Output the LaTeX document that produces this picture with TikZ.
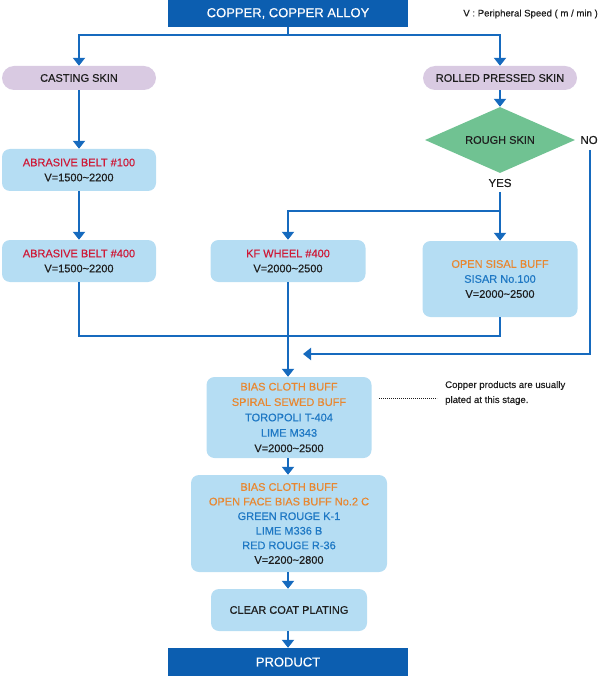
\documentclass[tikz,border=0pt]{standalone}
\usepackage{fontspec}
\setmainfont{Liberation Sans}[FakeBold=0.35]
\usetikzlibrary{arrows.meta,shapes.geometric}
\definecolor{dblue}{RGB}{12,94,176}
\definecolor{lineblue}{RGB}{22,106,190}
\definecolor{lblue}{RGB}{181,221,243}
\definecolor{lav}{RGB}{217,202,226}
\definecolor{grn}{RGB}{112,194,146}
\definecolor{redt}{RGB}{206,26,56}
\definecolor{orat}{RGB}{232,135,48}
\definecolor{bluet}{RGB}{30,120,196}
\definecolor{txt}{RGB}{30,30,30}
\begin{document}
\begin{tikzpicture}[x=1pt,y=-1pt,
  base/.style={font=\fontsize{11}{15}\selectfont, align=center, inner sep=0pt, text=txt},
  box/.style={base, fill=lblue, rounded corners=8pt, minimum height=42pt},
  pill/.style={base, fill=lav, rounded corners=12pt, minimum width=154pt, minimum height=24pt},
  headbox/.style={fill=dblue, text=white, font=\fontsize{13}{15}\selectfont, minimum width=240pt, inner sep=0pt},
  dia/.style={base, diamond, fill=grn, minimum width=150pt, minimum height=66pt, aspect=2.27},
  lbl/.style={font=\fontsize{11.5}{14}\selectfont, text=txt, inner sep=0pt},
  notefont/.style={font=\fontsize{9.6}{15}\selectfont, text=txt, inner sep=0pt},
  conn/.style={draw=lineblue, line width=2.4pt},
  arr/.style={conn, -{Triangle[width=12pt,length=8pt]}},
  dashline/.style={draw=txt, line width=0.6pt, dash pattern=on 1.2pt off 0.8pt}
]
\useasboundingbox (0,0) rectangle (599,676);

\node[headbox, minimum height=27pt] (top) at (288,13.5) {COPPER, COPPER ALLOY};
\node[notefont, anchor=east] (spd) at (598,14) {V : Peripheral Speed ( m / min )};

\node[pill] (cast) at (79,78) {CASTING SKIN};
\node[pill] (rolled) at (500,78) {ROLLED PRESSED SKIN};

\node[dia] (rough) at (500,140) {ROUGH SKIN};
\node[lbl] (no) at (589,140) {NO};
\node[lbl] (yes) at (500,183) {YES};

\node[box, minimum width=154pt] (ab100) at (79,170) {\textcolor{redt}{ABRASIVE BELT \#100}\\V=1500\textasciitilde2200};
\node[box, minimum width=154pt] (ab400) at (79,261) {\textcolor{redt}{ABRASIVE BELT \#400}\\V=1500\textasciitilde2200};
\node[box, minimum width=155pt] (kf) at (288,261) {\textcolor{redt}{KF WHEEL \#400}\\V=2000\textasciitilde2500};
\node[box, minimum width=155pt, minimum height=76pt] (sisal) at (500,279) {\textcolor{orat}{OPEN SISAL BUFF}\\\textcolor{bluet}{SISAR No.100}\\V=2000\textasciitilde2500};

\node[box, minimum width=165pt, minimum height=81pt, font=\fontsize{11}{15.4}\selectfont] (bias1) at (289,417.5) {\textcolor{orat}{BIAS CLOTH BUFF}\\\textcolor{orat}{SPIRAL SEWED BUFF}\\\textcolor{bluet}{TOROPOLI T-404}\\\textcolor{bluet}{LIME M343}\\V=2000\textasciitilde2500};
\node[notefont, align=left, anchor=west] (note) at (445,393) {Copper products are usually\\plated at this stage.};
\coordinate (n1) at (379,398);
\coordinate (n2) at (437,398);
\draw[dashline] (n1) -- (n2);

\node[box, minimum width=196pt, minimum height=97pt, font=\fontsize{11}{14.6}\selectfont] (bias2) at (289,523.5) {\textcolor{orat}{BIAS CLOTH BUFF}\\\textcolor{orat}{OPEN FACE BIAS BUFF No.2 C}\\\textcolor{bluet}{GREEN ROUGE K-1}\\\textcolor{bluet}{LIME M336 B}\\\textcolor{bluet}{RED ROUGE R-36}\\V=2200\textasciitilde2800};
\node[box, minimum width=156pt] (clear) at (289,610) {CLEAR COAT PLATING};
\node[headbox, minimum height=28pt] (prod) at (288,662) {PRODUCT};

% connectors
\coordinate (tb) at (288,35);
\draw[conn] (top.south) -- (tb);
\draw[arr] (tb) -| (cast.north);
\draw[arr] (tb) -| (rolled.north);
\draw[arr] (cast.south) -- (ab100.north);
\draw[arr] (ab100.south) -- (ab400.north);
\draw[arr] (rolled.south) -- (rough.north);

\coordinate (ys) at (500,192);
\coordinate (ybr) at (500,211);
\draw[arr] (ys) -- (sisal.north);
\draw[arr] (ybr) -| (kf.north);

\coordinate (ns) at (590,150);
\coordinate (noend) at (303,354);
\draw[arr] (ns) |- (noend);

\coordinate (mrg) at (288,336);
\draw[conn] (ab400.south) |- (mrg);
\draw[conn] (sisal.south) |- (mrg);
\draw[arr] (kf.south) -- (kf.south |- bias1.north);
\draw[arr] (bias1.south -| 288,0) -- (bias2.north -| 288,0);
\draw[arr] (bias2.south -| 288,0) -- (clear.north -| 288,0);
\draw[arr] (clear.south -| 288,0) -- (prod.north);
\end{tikzpicture}
\end{document}
